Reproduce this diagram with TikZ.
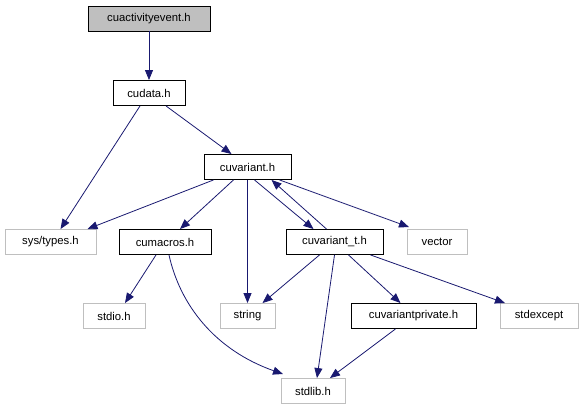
\documentclass[tikz,border=0pt]{standalone}
\usepackage{fontspec}
\setmainfont{Liberation Sans}
\usetikzlibrary{arrows.meta}
\definecolor{edgec}{HTML}{191970}
\definecolor{grayb}{HTML}{BFBFBF}
\begin{document}
\begin{tikzpicture}[x=1pt,y=-1pt,
  box/.style={draw=black,line width=0.9pt,minimum height=25pt,inner sep=0pt,font=\fontsize{11.3}{13}\selectfont},
  ext/.style={box,draw=grayb},
  root/.style={box,fill=grayb},
  edge/.style={draw=edgec,line width=0.8pt,-{Triangle[length=10pt,width=8pt]}}]
\useasboundingbox (0,0) rectangle (585,411);
\node[root,minimum width=122pt] (root) at (149,18.5) {cuactivityevent.h};
\node[box,minimum width=72pt] (cudata) at (149,93) {cudata.h};
\node[box,minimum width=87pt] (cuvariant) at (247.5,167) {cuvariant.h};
\node[ext,minimum width=91pt] (systypes) at (50.5,242) {sys/types.h};
\node[box,minimum width=92pt] (cumacros) at (165,242) {cumacros.h};
\node[box,minimum width=97pt] (cuvt) at (334.5,242) {cuvariant\_t.h};
\node[ext,minimum width=60pt] (vector) at (437,242) {vector};
\node[ext,minimum width=62pt] (stdio) at (114,316) {stdio.h};
\node[ext,minimum width=55pt] (string) at (247.5,316) {string};
\node[box,minimum width=125pt] (cuvp) at (413.5,316) {cuvariantprivate.h};
\node[ext,minimum width=78pt] (stdexcept) at (539,316) {stdexcept};
\node[ext,minimum width=64pt] (stdlib) at (313,391) {stdlib.h};

\draw[edge] (root) -- (cudata);
\draw[edge] ([xshift=-9pt]cudata.south) -- ([xshift=10pt]systypes.north);
\draw[edge] ([xshift=17pt]cudata.south) -- ([xshift=-16pt]cuvariant.north);
\draw[edge] ([xshift=-34pt]cuvariant.south) -- ([xshift=37pt]systypes.north);
\draw[edge] ([xshift=-14pt]cuvariant.south) -- ([xshift=15pt]cumacros.north);
\draw[edge] (cuvariant.south) -- (string.north);
\draw[edge] ([xshift=7pt]cuvariant.south) -- ([xshift=-21pt]cuvt.north);
\draw[edge] ([xshift=-8pt]cuvt.north) -- ([xshift=24pt]cuvariant.south);
\draw[edge] ([xshift=32pt]cuvariant.south) -- ([xshift=-28pt,yshift=2pt]vector.north);
\draw[edge] ([xshift=-9pt]cumacros.south) -- ([xshift=11pt]stdio.north);
\draw[edge] ([xshift=4pt]cumacros.south) .. controls (180,305) and (215,350) .. ([xshift=-30pt,yshift=4pt]stdlib.north);
\draw[edge] ([xshift=-15pt]cuvt.south) -- ([xshift=15pt]string.north);
\draw[edge] (cuvt.south) -- ([xshift=4pt]stdlib.north);
\draw[edge] ([xshift=14pt]cuvt.south) -- ([xshift=-13pt]cuvp.north);
\draw[edge] ([xshift=36pt]cuvt.south) -- ([xshift=-34pt]stdexcept.north);
\draw[edge] ([xshift=-18pt]cuvp.south) -- ([xshift=17pt]stdlib.north);
\end{tikzpicture}
\end{document}
